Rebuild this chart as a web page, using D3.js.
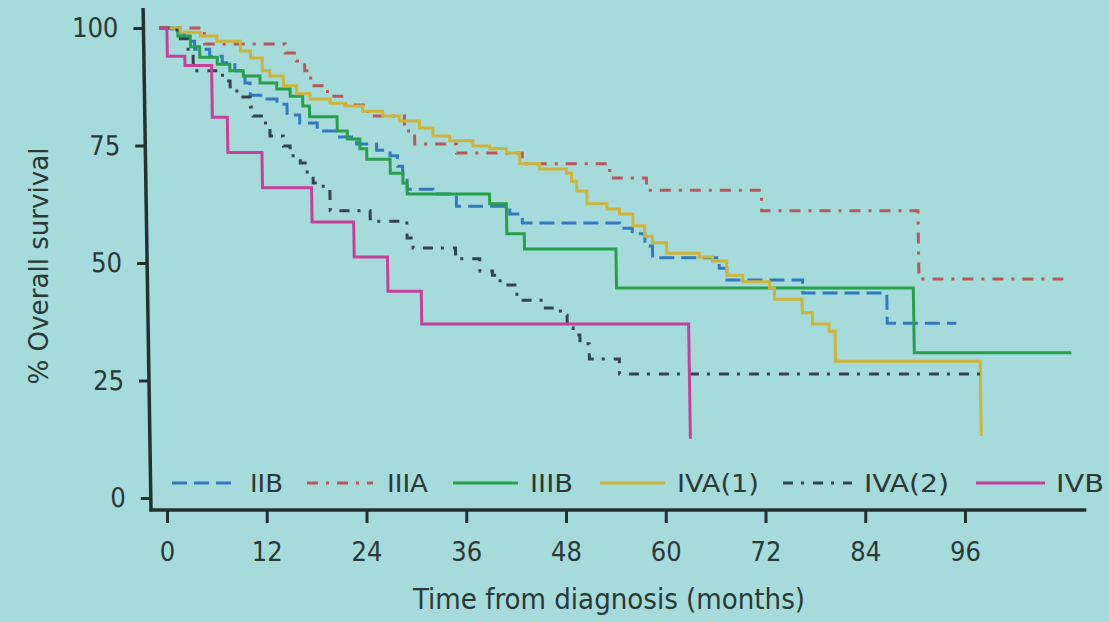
<!DOCTYPE html>
<html>
<head>
<meta charset="utf-8">
<script src="https://cdn.jsdelivr.net/npm/d3@7/dist/d3.min.js"></script>
<style>
  html, body { margin: 0; padding: 0; background: #a5dbdb; }
  svg { display: block; }
  text { font-family: "Liberation Sans Narrow", "DejaVu Sans Condensed", "Roboto", sans-serif; fill: #2c3838; }
</style>
</head>
<body>
<svg id="chart" width="1109" height="622"></svg>
<script>
// Tick labels
const monthTicks = [0, 12, 24, 36, 48, 60, 72, 84, 96];
const survivalTicks = [0, 25, 50, 75, 100];

// Stage groups, in legend order
const stages = ["IIB", "IIIA", "IIIB", "IVA(1)", "IVA(2)", "IVB"];

// Kaplan–Meier steps per stage: [month, % surviving after the drop]
const iibSteps = [[0,100],[1.5,99.0],[3.0,97.2],[4.2,95.5],[6.0,94.0],[7.5,92.6],[9.0,90.9],[10.2,88.3],[10.8,85.7],[12.6,84.9],[14.0,83.8],[15.2,81.5],[16.7,79.8],[18.8,78.1],[21.2,76.8],[23.5,75.3],[25.9,74.0],[27.5,72.8],[28.4,70.6],[29.0,68.9],[29.5,65.7],[32.6,64.7],[35.4,62.1],[41.8,60.4],[43.3,58.5],[55.0,57.4],[56.5,56.2],[58.0,53.6],[58.9,51.1],[66.9,48.9],[67.8,46.4],[76.9,43.6],[87.0,37.2]];
const iiiaSteps = [[0,100],[5.4,96.6],[15.1,94.7],[16.4,93.0],[17.4,90.9],[18.1,87.7],[20.1,85.5],[22.2,83.6],[24.9,81.3],[29.3,78.1],[30.5,75.3],[35.5,73.4],[43.4,71.1],[53.9,68.1],[58.3,65.5],[72.1,61.1],[90.9,46.6]];
const iiibSteps = [[0,100],[2.2,98.3],[3.7,96.0],[4.8,93.8],[6.9,92.3],[8.4,90.9],[10.0,89.8],[12.0,88.3],[14.0,87.0],[15.6,85.5],[17.1,83.4],[17.9,81.1],[21.2,78.1],[22.4,76.4],[23.9,74.3],[24.7,72.1],[27.5,69.1],[29.0,67.0],[29.5,64.7],[39.4,62.6],[41.4,56.2],[43.5,53.0],[54.5,44.7],[90.2,30.9]];
const iva1Steps = [[0,100],[2.5,99.1],[4.9,98.3],[6.9,97.2],[9.7,95.1],[10.9,93.6],[12.3,90.9],[13.2,89.8],[14.8,87.7],[16.4,86.0],[18.0,84.9],[20.4,84.0],[22.2,83.4],[24.3,82.3],[26.7,81.3],[28.7,80.2],[31.1,78.7],[32.7,77.0],[34.7,76.0],[37.5,74.9],[39.5,74.3],[41.5,73.4],[43.1,71.1],[45.5,70.0],[48.7,69.1],[49.3,67.4],[49.9,65.3],[51.1,62.6],[53.5,61.5],[55.0,60.4],[56.6,57.9],[58.0,55.7],[58.9,54.3],[60.6,52.1],[64.5,51.3],[66.1,50.4],[67.8,47.4],[69.7,46.0],[72.9,44.7],[73.5,42.3],[76.8,39.4],[78.0,37.0],[80.0,35.5],[80.7,29.1],[98.1,13.2]];
const iva2Steps = [[0,100],[2.1,97.7],[3.4,94.7],[4.0,90.9],[7.5,88.7],[8.4,86.6],[9.2,85.3],[10.8,83.2],[11.1,81.3],[12.3,79.8],[13.1,77.0],[14.7,74.9],[15.5,72.8],[16.7,71.3],[17.5,68.5],[18.2,67.0],[19.4,66.0],[20.2,61.1],[25.0,58.9],[29.4,55.3],[30.1,53.2],[35.2,50.9],[38.1,48.3],[39.6,47.4],[40.5,45.3],[42.5,42.1],[45.9,40.4],[47.7,38.9],[48.5,36.2],[49.2,34.7],[50.0,32.8],[51.1,29.6],[54.7,26.4]];
const ivbSteps = [[0,100],[0.9,94.0],[3.0,92.0],[6.2,81.0],[8.0,73.5],[12.1,66.0],[18.0,58.7],[23.0,51.3],[27.0,44.0],[31.0,37.0],[63.1,12.6]];

// Last month of follow-up drawn for each stage
const followUpEnd = [95.3, 108.6, 109.1, 98.1, 98.2, 63.1];

const stepSets = [iibSteps, iiiaSteps, iiibSteps, iva1Steps, iva2Steps, ivbSteps];
const colors = ["#3479bd", "#b9575d", "#27a04c", "#cdb43a", "#37434e", "#c6409a"];
const dashes = ["15,7", "11,8,3,8", null, null, "10,8,3,9", null];

const svg = d3.select("#chart");
const W = 1109, H = 622;

svg.append("rect").attr("width", W).attr("height", H).attr("fill", "#a5dbdb");

const axisY = 510, axisX = 151;
const x = d3.scaleLinear().domain([0, 96]).range([167, 965]);
const y = d3.scaleLinear().domain([0, 100]).range([498, 28]);

// Plot area leans slightly, as the axes do
const plot = svg.append("g")
  .attr("transform", `translate(0,${axisY}) skewX(0.9) translate(0,${-axisY})`);

// Y axis
const yAxis = plot.append("g")
  .attr("transform", `translate(${axisX},0)`)
  .call(d3.axisLeft(y).tickValues(survivalTicks).tickSize(10).tickPadding(15));
yAxis.select(".domain").remove();
yAxis.selectAll(".tick line").attr("stroke", "#263030").attr("stroke-width", 3);
yAxis.selectAll(".tick text").attr("font-size", 27).attr("fill", "#2c3838")
  .attr("font-family", "Liberation Sans Narrow, DejaVu Sans Condensed, Roboto, sans-serif");
plot.append("line").attr("x1", axisX).attr("x2", axisX).attr("y1", 8).attr("y2", axisY + 1.5)
  .attr("stroke", "#263030").attr("stroke-width", 3.5);

// Survival curves
const line = d3.line()
  .x(d => x(d[0]))
  .y(d => y(d[1]))
  .curve(d3.curveStepAfter);

stepSets.forEach((steps, i) => {
  const pts = steps.concat([[followUpEnd[i], steps[steps.length - 1][1]]]);
  plot.append("path")
    .datum(pts)
    .attr("d", line)
    .attr("fill", "none")
    .attr("stroke", colors[i])
    .attr("stroke-width", 3)
    .attr("stroke-linejoin", "miter")
    .attr("stroke-dasharray", dashes[i]);
});

// X axis
const xAxis = svg.append("g")
  .attr("transform", `translate(0,${axisY})`)
  .call(d3.axisBottom(x).tickValues(monthTicks).tickSize(13).tickPadding(19));
xAxis.select(".domain").remove();
xAxis.selectAll(".tick line").attr("stroke", "#263030").attr("stroke-width", 3);
xAxis.selectAll(".tick text").attr("font-size", 27).attr("fill", "#2c3838")
  .attr("font-family", "Liberation Sans Narrow, DejaVu Sans Condensed, Roboto, sans-serif");
svg.append("line").attr("x1", axisX - 1.5).attr("x2", x(110.6)).attr("y1", axisY).attr("y2", axisY)
  .attr("stroke", "#263030").attr("stroke-width", 3.5);

// Legend inside the plot, along the bottom
const legendY = 483;
const legendItems = [
  { x0: 172, x1: 238, tx: 250, tw: 33 },
  { x0: 307, x1: 373, tx: 387, tw: 41 },
  { x0: 453, x1: 518, tx: 530, tw: 43 },
  { x0: 600, x1: 665, tx: 677, tw: 82 },
  { x0: 783, x1: 852, tx: 864, tw: 85 },
  { x0: 976, x1: 1045, tx: 1056, tw: 48 }
];
const legend = svg.append("g");
stages.forEach((name, i) => {
  const it = legendItems[i];
  legend.append("line")
    .attr("x1", it.x0).attr("x2", it.x1).attr("y1", legendY).attr("y2", legendY)
    .attr("stroke", colors[i]).attr("stroke-width", 3)
    .attr("stroke-dasharray", dashes[i]);
  legend.append("text")
    .attr("x", it.tx).attr("y", legendY + 9)
    .attr("font-size", 25)
    .attr("textLength", it.tw).attr("lengthAdjust", "spacingAndGlyphs")
    .text(name);
});

// Axis titles
svg.append("text")
  .attr("x", 609).attr("y", 609)
  .attr("text-anchor", "middle")
  .attr("font-size", 28)
  .attr("textLength", 392).attr("lengthAdjust", "spacingAndGlyphs")
  .text("Time from diagnosis (months)");

svg.append("text")
  .attr("transform", "translate(48,266) rotate(-90)")
  .attr("text-anchor", "middle")
  .attr("font-size", 26)
  .attr("textLength", 237).attr("lengthAdjust", "spacingAndGlyphs")
  .text("% Overall survival");
</script>
</body>
</html>
